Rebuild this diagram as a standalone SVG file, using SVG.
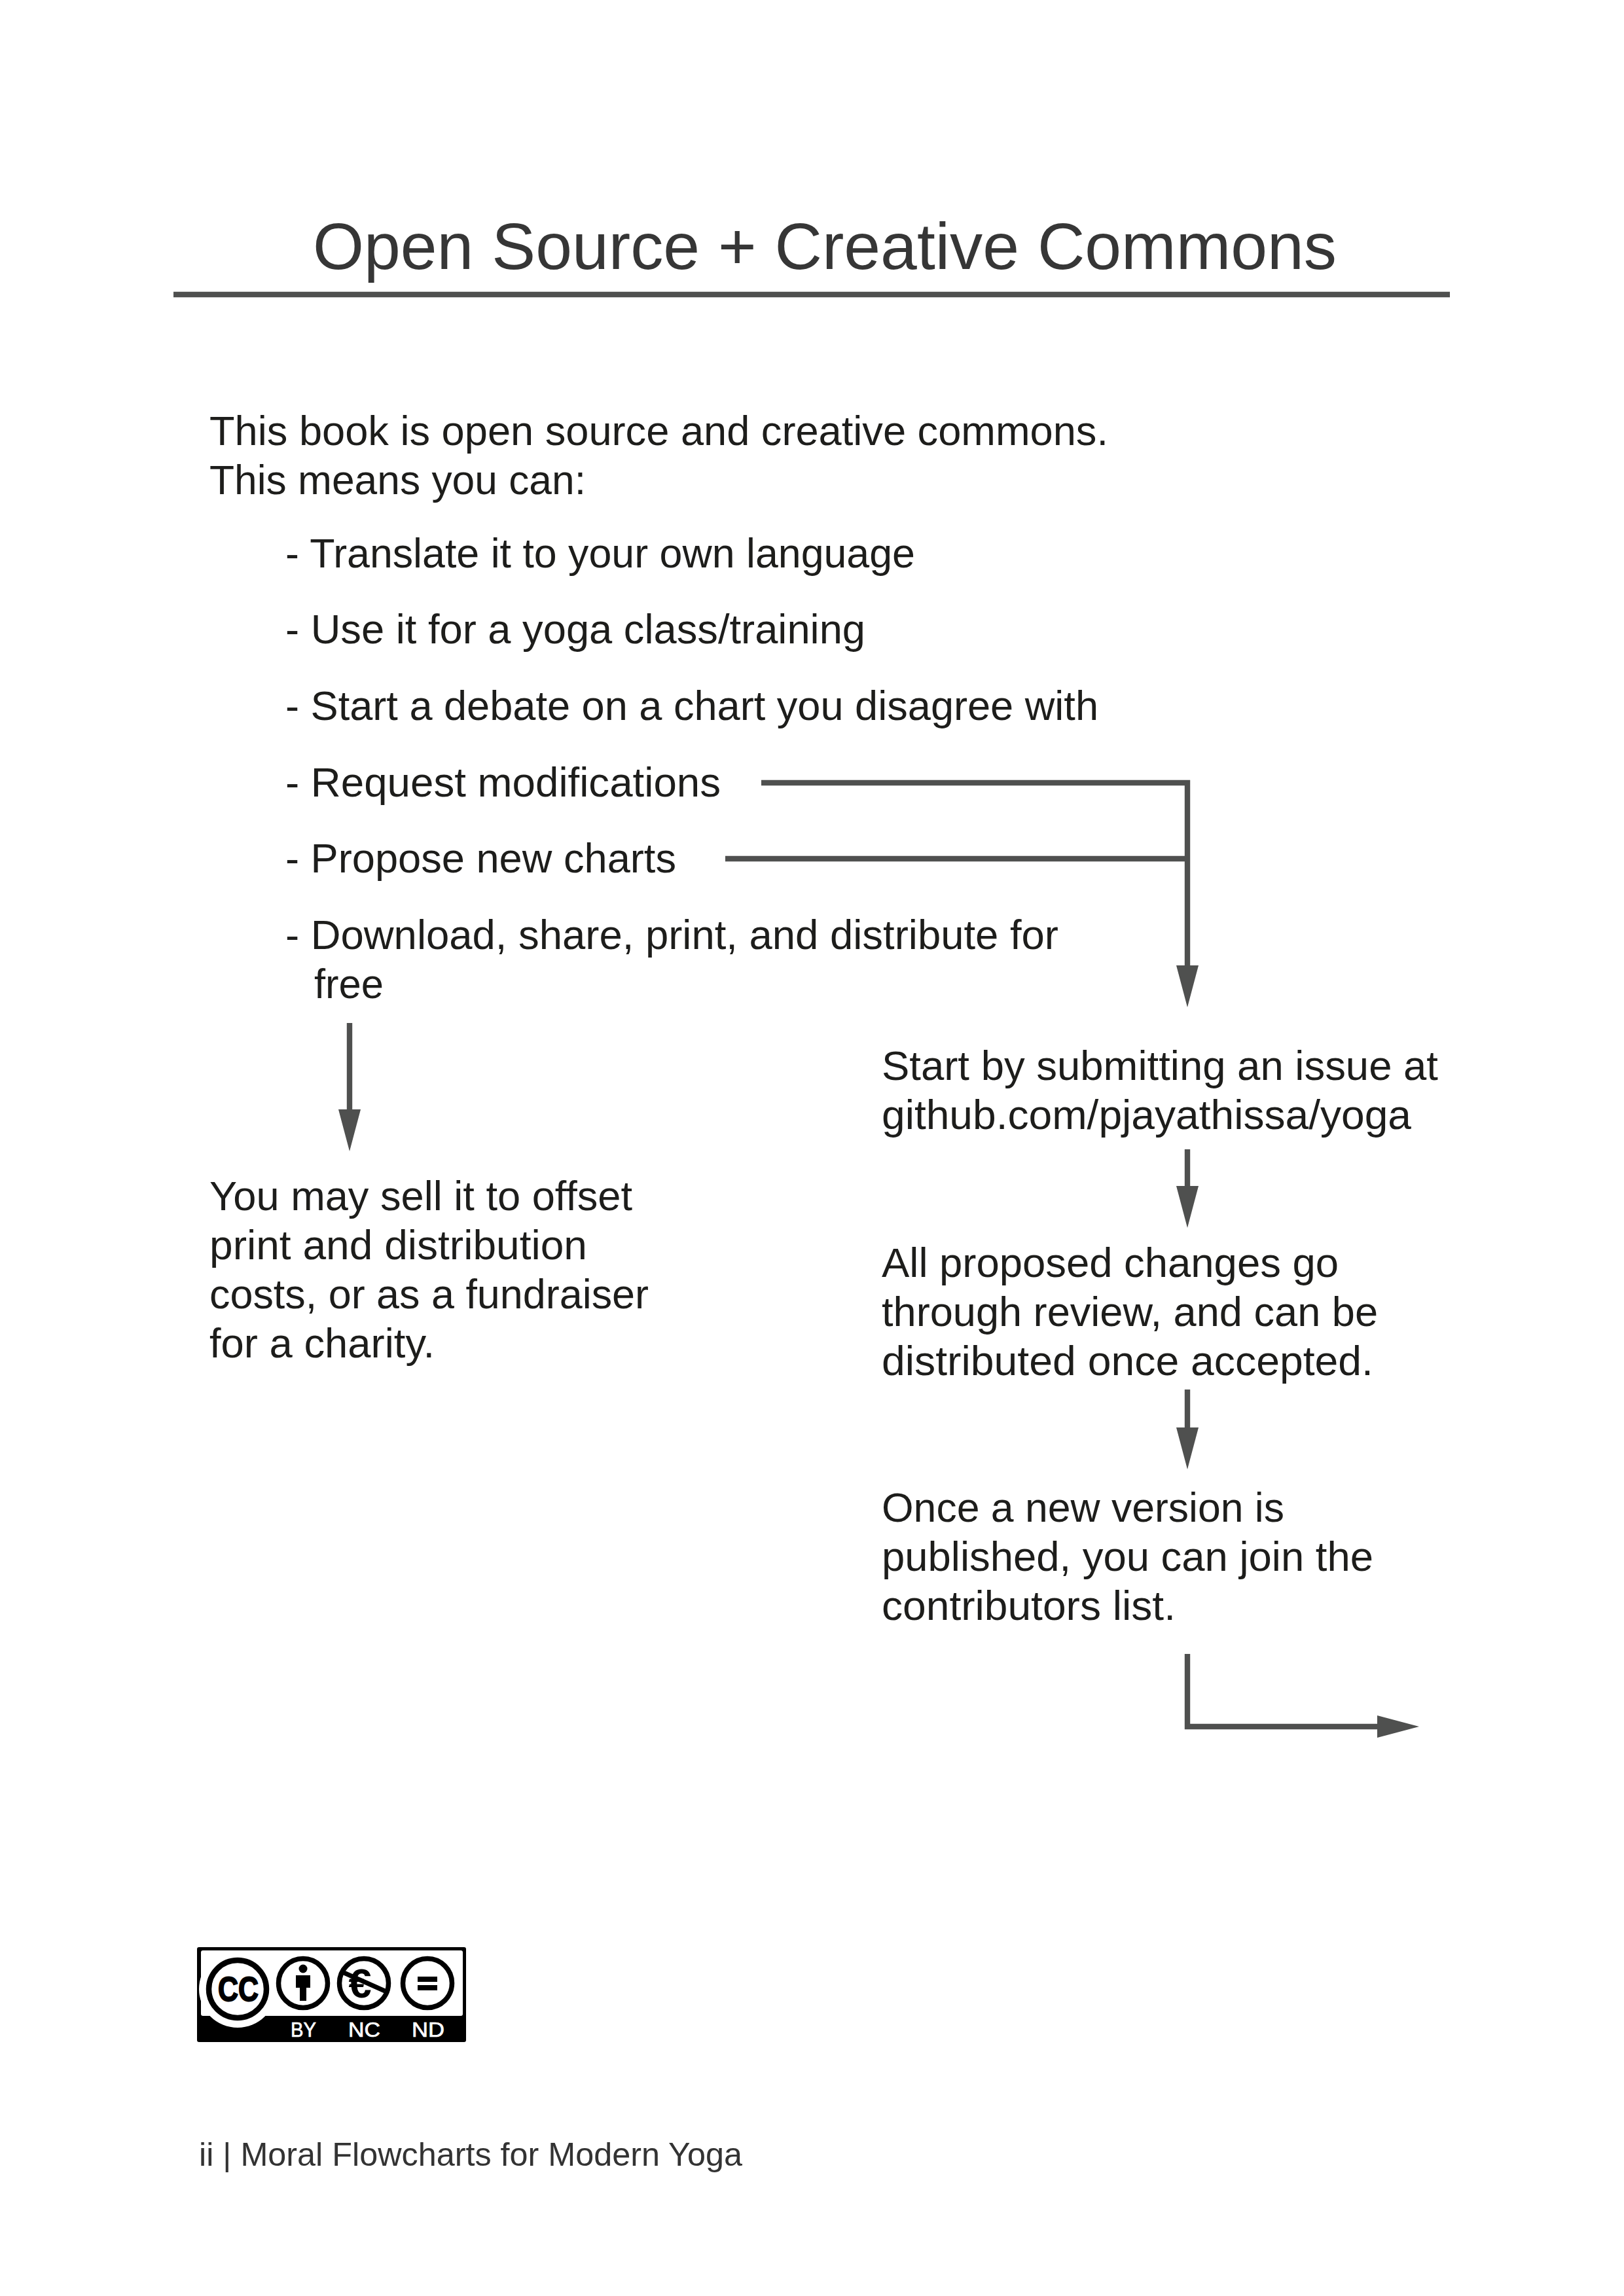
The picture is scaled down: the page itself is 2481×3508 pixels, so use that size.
<svg xmlns="http://www.w3.org/2000/svg" width="2481" height="3508" viewBox="0 0 2481 3508">
<style>
text{font-family:"Liberation Sans",Arial,sans-serif;}
.b{font-size:63.5px;fill:#1d1d1b}
.t{font-size:101px;fill:#363636}
.f{font-size:50px;fill:#333}
.c{fill:none;stroke:#4f504f;stroke-width:8.4}
.a{marker-end:url(#ah)}
.k{fill:none;stroke:#000;stroke-width:7.5}
.l{font-size:32px;fill:#fff;stroke:#fff;stroke-width:.7}
</style>
<defs>
<marker id="ah" markerUnits="userSpaceOnUse" markerWidth="64" markerHeight="34" refX="0" refY="17" orient="auto" viewBox="0 0 64 34"><path d="M0 0L64 17L0 34Z" fill="#4f504f"/></marker>
</defs>
<rect width="2481" height="3508" fill="#fff"/>
<g id="title"><text class="t" x="478" y="411" textLength="1564" lengthAdjust="spacingAndGlyphs">Open Source + Creative Commons</text></g>
<g id="intro"><text class="b" x="320" y="680" textLength="1373" lengthAdjust="spacingAndGlyphs">This book is open source and creative commons.</text><text class="b" x="320" y="755" textLength="575" lengthAdjust="spacingAndGlyphs">This means you can:</text></g>
<g id="item-translate"><text class="b" x="436" y="867" textLength="962" lengthAdjust="spacingAndGlyphs">- Translate it to your own language</text></g>
<g id="item-use"><text class="b" x="436" y="983" textLength="886" lengthAdjust="spacingAndGlyphs">- Use it for a yoga class/training</text></g>
<g id="item-debate"><text class="b" x="436" y="1100" textLength="1242" lengthAdjust="spacingAndGlyphs">- Start a debate on a chart you disagree with</text></g>
<g id="item-request"><text class="b" x="436" y="1217" textLength="665" lengthAdjust="spacingAndGlyphs">- Request modifications</text></g>
<g id="item-propose"><text class="b" x="436" y="1333" textLength="597" lengthAdjust="spacingAndGlyphs">- Propose new charts</text></g>
<g id="item-download"><text class="b" x="436" y="1450" textLength="1181" lengthAdjust="spacingAndGlyphs">- Download, share, print, and distribute for</text><text class="b" x="480" y="1525" textLength="106" lengthAdjust="spacingAndGlyphs">free</text></g>
<g id="sell"><text class="b" x="320" y="1849" textLength="646" lengthAdjust="spacingAndGlyphs">You may sell it to offset</text><text class="b" x="320" y="1924" textLength="577" lengthAdjust="spacingAndGlyphs">print and distribution</text><text class="b" x="320" y="1999" textLength="671" lengthAdjust="spacingAndGlyphs">costs, or as a fundraiser</text><text class="b" x="320" y="2074" textLength="344" lengthAdjust="spacingAndGlyphs">for a charity.</text></g>
<g id="issue"><text class="b" x="1347" y="1650" textLength="850" lengthAdjust="spacingAndGlyphs">Start by submitting an issue at</text><text class="b" x="1347" y="1725" textLength="809" lengthAdjust="spacingAndGlyphs">github.com/pjayathissa/yoga</text></g>
<g id="review"><text class="b" x="1347" y="1951" textLength="698" lengthAdjust="spacingAndGlyphs">All proposed changes go</text><text class="b" x="1347" y="2026" textLength="758" lengthAdjust="spacingAndGlyphs">through review, and can be</text><text class="b" x="1347" y="2101" textLength="751" lengthAdjust="spacingAndGlyphs">distributed once accepted.</text></g>
<g id="publish"><text class="b" x="1347" y="2325" textLength="615" lengthAdjust="spacingAndGlyphs">Once a new version is</text><text class="b" x="1347" y="2400" textLength="751" lengthAdjust="spacingAndGlyphs">published, you can join the</text><text class="b" x="1347" y="2475" textLength="449" lengthAdjust="spacingAndGlyphs">contributors list.</text></g>
<g id="connectors">
<path class="c" d="M265 450H2215"/>
<path class="c a" d="M1163 1196H1814V1475"/>
<path class="c" d="M1108 1312H1814"/>
<path class="c a" d="M534 1563V1695"/>
<path class="c a" d="M1814 1756V1812"/>
<path class="c a" d="M1814 2123V2181"/>
<path class="c a" d="M1814 2527V2638H2104"/>
</g>
<g id="cc-badge">
<rect x="301" y="2975" width="411" height="145" rx="3" fill="#000"/>
<rect x="307" y="2980" width="400" height="100" rx="3" fill="#fff"/>
<circle cx="363" cy="3039" r="59" fill="#fff"/>
<circle cx="363" cy="3039" r="44" class="k" style="stroke-width:8.5"/>
<text x="333" y="3057" font-size="52" font-weight="700" fill="#000" stroke="#000" stroke-width="2" textLength="62" lengthAdjust="spacingAndGlyphs">CC</text>
<circle cx="463" cy="3030" r="37.5" class="k"/>
<circle cx="463" cy="3008" r="6.5" fill="#000"/>
<path d="M452 3018H474V3037H468V3057H458V3037H452Z" fill="#000"/>
<circle cx="556" cy="3030" r="37.5" class="k"/>
<text x="550" y="3052" font-size="63" font-weight="700" fill="#000" text-anchor="middle">€</text>
<path d="M523 3013L588 3042" stroke="#000" stroke-width="7"/>
<circle cx="653" cy="3030" r="37.5" class="k"/>
<path d="M638 3020H668V3028H638ZM638 3033H668V3041H638Z" fill="#000"/>
<text class="l" x="444" y="3112" textLength="39" lengthAdjust="spacingAndGlyphs">BY</text>
<text class="l" x="532" y="3112" textLength="49" lengthAdjust="spacingAndGlyphs">NC</text>
<text class="l" x="629" y="3112" textLength="50" lengthAdjust="spacingAndGlyphs">ND</text>
</g>
<g id="footer"><text class="f" x="304" y="3309" textLength="830" lengthAdjust="spacingAndGlyphs">ii | Moral Flowcharts for Modern Yoga</text></g>
</svg>
